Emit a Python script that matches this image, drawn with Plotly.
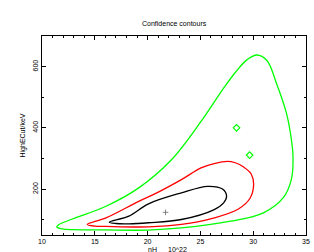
import plotly.graph_objects as go

# ---- data ----
green_x = [16.0, 20.0, 23.2, 27.86, 30.97, 32.83, 33.61, 33.77, 33.55, 33.14, 32.2, 31.3, 30.34, 29.4, 28.4, 27.2, 25.06, 22.26, 19.16, 16.06, 12.94, 11.6, 11.4, 11.9, 13.0, 16.0]
green_y = [66.5, 66.0, 73.0, 95.0, 122.5, 171.0, 231.0, 306.0, 377.0, 449.0, 546.0, 620.0, 638.0, 622.0, 585.0, 530.0, 421.0, 296.0, 204.0, 144.0, 103.0, 84.0, 76.0, 70.0, 67.5, 66.5]

red_x = [20.09, 23.2, 26.31, 28.6, 29.7, 30.04, 29.8, 29.1, 28.3, 27.55, 26.3, 25.06, 23.2, 20.87, 19.16, 16.06, 14.29, 15.0, 16.06, 20.09]
red_y = [76.5, 84.4, 106.0, 135.0, 170.0, 214.7, 250.0, 272.0, 286.0, 290.6, 283.0, 269.0, 231.0, 187.6, 160.0, 106.0, 84.4, 79.0, 78.0, 76.5]

black_x = [20.09, 23.2, 26.31, 27.2, 27.48, 27.1, 25.69, 23.2, 20.09, 18.23, 16.37, 17.0, 18.23, 20.09]
black_y = [90.0, 100.6, 133.0, 155.0, 176.5, 200.0, 209.0, 187.6, 151.8, 111.4, 91.8, 87.5, 86.6, 90.0]

extra_x = [28.42, 29.66]
extra_y = [400.0, 311.0]

best_x = [21.7]
best_y = [124.0]

x_ticks = [10, 15, 20, 25, 30, 35]
y_ticks = [200, 400, 600]

FONT = "Liberation Sans, Arial, sans-serif"

fig = go.Figure()
for xs, ys, col in [(green_x, green_y, "#00ff00"), (red_x, red_y, "#ff0000"), (black_x, black_y, "#000000")]:
    fig.add_trace(go.Scatter(x=xs, y=ys, mode="lines", line=dict(color=col, width=1.3, shape="spline", smoothing=1.0),
                             hoverinfo="skip", showlegend=False))
fig.add_trace(go.Scatter(x=extra_x, y=extra_y, mode="markers",
                         marker=dict(symbol="diamond-open", size=5, color="#00ff00", line=dict(width=1.2)),
                         showlegend=False))
fig.add_trace(go.Scatter(x=best_x, y=best_y, mode="markers",
                         marker=dict(symbol="cross-thin-open", size=4, color="#808080", line=dict(width=1, color="#808080")),
                         showlegend=False))

axis_common = dict(showline=True, linecolor="black", linewidth=1, mirror="allticks", ticks="inside",
                   ticklen=4, tickwidth=1, tickcolor="black", showgrid=False, zeroline=False,
                   tickfont=dict(family=FONT, size=7, color="black"))

fig.update_xaxes(range=[10, 35], tickvals=x_ticks, ticktext=[str(v) for v in x_ticks],
                 minor=dict(dtick=1, ticklen=2, tickcolor="black", ticks="inside", showgrid=False),
                 **axis_common)
fig.update_yaxes(range=[50, 700], tickvals=y_ticks, ticktext=[str(v) for v in y_ticks], tickangle=-90,
                 minor=dict(dtick=100, tick0=0, ticklen=2, tickcolor="black", ticks="inside", showgrid=False),
                 **axis_common)

fig.update_layout(
    width=314, height=252,
    margin=dict(l=42, r=4, t=36, b=17, pad=0),
    paper_bgcolor="white", plot_bgcolor="white",
    showlegend=False,
    annotations=[
        dict(text="Confidence contours", xref="paper", yref="paper", x=0.5, y=1, yshift=13,
             xanchor="center", yanchor="middle", showarrow=False, font=dict(family=FONT, size=7, color="black")),
        dict(text="nH", xref="paper", yref="paper", x=(154 - 42) / 268, y=0, yshift=-14,
             xanchor="center", yanchor="middle", showarrow=False, font=dict(family=FONT, size=7, color="black")),
        dict(text="10^22", xref="paper", yref="paper", x=(180 - 42) / 268, y=0, yshift=-14,
             xanchor="center", yanchor="middle", showarrow=False, font=dict(family=FONT, size=7, color="black")),
        dict(text="HighECut/keV", xref="paper", yref="paper", x=0, xshift=-20, y=0.5, textangle=-90,
             xanchor="center", yanchor="middle", showarrow=False, font=dict(family=FONT, size=7, color="black")),
    ],
)

fig.write_html("out.html", config={"displayModeBar": False, "staticPlot": True},
               post_script="document.body.style.margin='0';document.body.style.padding='0';")
